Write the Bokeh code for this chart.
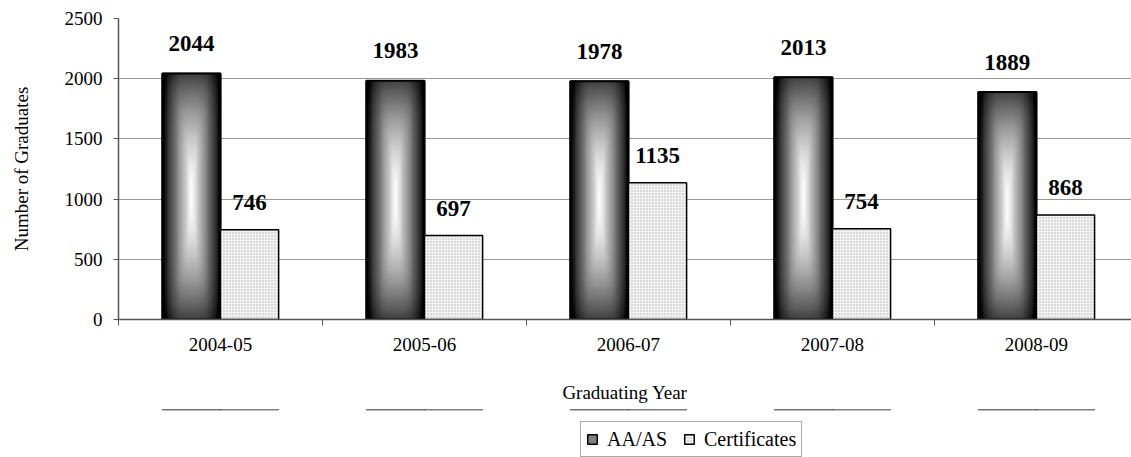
import numpy as np
from bokeh.plotting import figure
from bokeh.layouts import column
from bokeh.models import Range1d, FixedTicker, Legend, LegendItem
from bokeh.core.properties import value
from bokeh.embed import file_html
from bokeh.resources import INLINE

years = ["2004-05", "2005-06", "2006-07", "2007-08", "2008-09"]
aa_as = [2044, 1983, 1978, 2013, 1889]
certificates = [746, 697, 1135, 754, 868]
y_ticks = [0, 500, 1000, 1500, 2000, 2500]
series_names = ["AA/AS", "Certificates"]

FONT = "Liberation Serif"
BAR_W = 0.285
centers = [i + 0.5 for i in range(len(years))]
boundaries = [float(i) for i in range(len(years) + 1)]
aa_x = [c - BAR_W / 2 for c in centers]
cert_x = [c + BAR_W / 2 for c in centers]

AA_FILL = "#808080"
CERT_STYLE = dict(fill_color="#f4f4f4", hatch_pattern="dot", hatch_color="#b0b0b0",
                  hatch_scale=3, hatch_weight=1, line_color="black", line_width=1.5)

p = figure(frame_width=1013, frame_height=301,
           output_backend="svg", toolbar_location=None,
           x_range=Range1d(0, 4.966), y_range=Range1d(0, 2500),
           min_border_left=118, min_border_top=18, min_border_right=0,
           min_border_bottom=90)
p.outline_line_color = None
p.background_fill_color = "white"
p.border_fill_color = "white"

# gradient image for AA/AS bars (dark edges, light centre)
ny, nx = 256, 64
u = np.linspace(-1, 1, nx)
v = np.linspace(-1, 1, ny)
U, V = np.meshgrid(u, v)
pn = 4.0
t = (np.abs(U) ** pn + (0.76 * np.abs(V) ** 1.6) ** pn) ** (1 / pn)
inten = np.clip(1 - t, 0, 1) ** 0.95
g = (inten * 255).astype(np.uint32)
img = (np.uint32(255) << 24) | (g << 16) | (g << 8) | g

p.vbar(x=aa_x, top=aa_as, width=BAR_W, fill_color=AA_FILL,
       line_color="black", line_width=1.5)
p.image_rgba(image=[img] * len(years), x=[c - BAR_W for c in centers],
             y=[0] * len(years), dw=[BAR_W] * len(years), dh=aa_as)
p.vbar(x=aa_x, top=aa_as, width=BAR_W,
       fill_alpha=0, line_color="black", line_width=2)

p.vbar(x=cert_x, top=certificates, width=BAR_W, **CERT_STYLE)

# value labels
p.text(x=aa_x, y=aa_as, text=[str(a) for a in aa_as],
       text_font=value(FONT), text_font_style="bold", text_font_size="23px",
       text_align="center", text_baseline="alphabetic", y_offset=-30,
       text_color="black")
p.text(x=cert_x, y=certificates, text=[str(a) for a in certificates],
       text_font=value(FONT), text_font_style="bold", text_font_size="23px",
       text_align="center", text_baseline="alphabetic", y_offset=-27,
       text_color="black")

# axes
xa = p.xaxis[0]
xa.ticker = FixedTicker(ticks=centers, minor_ticks=boundaries)
xa.major_label_overrides = {c: y for c, y in zip(centers, years)}
xa.major_tick_out = 0
xa.major_tick_in = 0
xa.minor_tick_out = 6
xa.minor_tick_in = 0
xa.minor_tick_line_color = "#555555"
xa.axis_line_color = "#555555"
xa.axis_line_width = 1.5
xa.major_label_text_font = FONT
xa.major_label_text_font_size = "19px"
xa.major_label_text_color = "black"
xa.major_label_standoff = 12
xa.axis_label = "Graduating Year"
xa.axis_label_text_font = FONT
xa.axis_label_text_font_size = "19px"
xa.axis_label_text_font_style = "normal"
xa.axis_label_text_color = "black"
xa.axis_label_standoff = 28

ya = p.yaxis[0]
ya.ticker = FixedTicker(ticks=y_ticks)
ya.major_tick_out = 5
ya.major_tick_in = 0
ya.minor_tick_out = 0
ya.minor_tick_in = 0
ya.major_tick_line_color = "#555555"
ya.axis_line_color = "#555555"
ya.axis_line_width = 1.5
ya.major_label_text_font = FONT
ya.major_label_text_font_size = "19px"
ya.major_label_text_color = "black"
ya.major_label_standoff = 11
ya.axis_label = "Number of Graduates"
ya.axis_label_text_font = FONT
ya.axis_label_text_font_size = "19px"
ya.axis_label_text_font_style = "normal"
ya.axis_label_text_color = "black"
ya.axis_label_standoff = 30

p.xgrid.grid_line_color = None
p.ygrid.grid_line_color = "#999999"
p.ygrid.grid_line_width = 1

# legend strip below the chart (a second, axis-less figure)
lg = figure(width=1131, height=48, output_backend="svg", toolbar_location=None,
            x_range=Range1d(0, 4.966), y_range=Range1d(-2, -1),
            x_axis_type=None, y_axis_type=None, min_border=0)
lg.outline_line_color = None
lg.grid.visible = False
lg.background_fill_color = "white"
lg.border_fill_color = "white"
leg_aa = lg.vbar(x=aa_x, top=aa_as, width=BAR_W, fill_color=AA_FILL,
                 line_color="black", line_width=1.5)
leg_cert = lg.vbar(x=cert_x, top=certificates, width=BAR_W, **CERT_STYLE)

legend = Legend(items=[LegendItem(label=series_names[0], renderers=[leg_aa]),
                       LegendItem(label=series_names[1], renderers=[leg_cert])],
                orientation="horizontal", location=(462, 0))
legend.label_text_font = FONT
legend.label_text_font_size = "20px"
legend.label_text_color = "black"
legend.label_height = 24
legend.glyph_width = 12
legend.glyph_height = 12
legend.label_standoff = 9
legend.spacing = 16
legend.padding = 5
legend.margin = 0
legend.border_line_color = "#555555"
legend.border_line_width = 1.5
legend.background_fill_color = "white"
legend.background_fill_alpha = 1
lg.add_layout(legend, "center")

layout = column(p, lg, spacing=0)
open("out.html", "w").write(file_html(layout, INLINE))
